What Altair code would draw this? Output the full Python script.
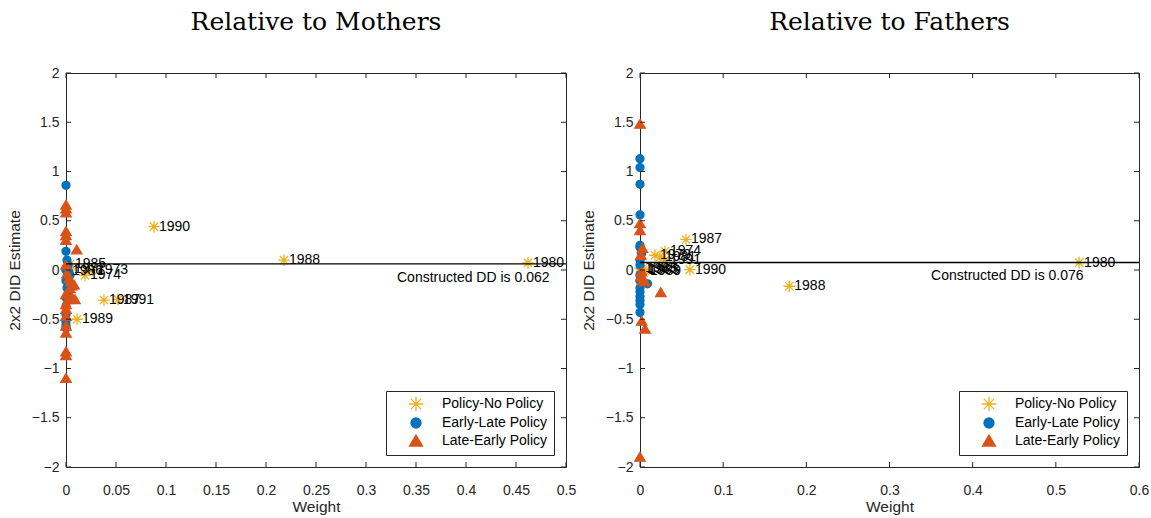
import altair as alt
import pandas as pd

YELLOW = "#EDB120"
BLUE = "#0072BD"
RED = "#D95319"
AX = "#262626"
SERIES = ["Policy-No Policy", "Early-Late Policy", "Late-Early Policy"]
ASTER = "M-1.45,0L1.45,0M0,-1.45L0,1.45M-1.03,-1.03L1.03,1.03M-1.03,1.03L1.03,-1.03"
TRI = "M0,-1.2L1.3,1L-1.3,1Z"

Y_TICKS = [-2, -1.5, -1, -0.5, 0, 0.5, 1, 1.5, 2]

# ---------------- Relative to Mothers ----------------
m_pnp_year = ["1990", "1988", "1980", "1989", "1987", "1991", "1985", "1977", "1986", "1973", "1974"]
m_pnp_x = [0.088, 0.218, 0.462, 0.011, 0.038, 0.052, 0.004, 0.003, 0.001, 0.026, 0.019]
m_pnp_y = [0.44, 0.10, 0.072, -0.50, -0.305, -0.30, 0.06, 0.01, -0.01, 0.00, -0.055]

m_el_x = [0.000, 0.000, 0.001, 0.002, 0.000, 0.003, 0.004, 0.000, 0.001, 0.002, 0.000, 0.000,
          0.000, 0.000, 0.000, 0.000]
m_el_y = [0.86, 0.19, 0.10, 0.05, 0.00, -0.02, -0.05, -0.11, -0.18, -0.24, -0.28, -0.37,
          -0.45, -0.52, -0.56, -0.59]

m_le_x = [0.000, 0.000, 0.000, 0.000, 0.000, 0.000, 0.0107, 0.000, 0.001, 0.003, 0.005, 0.006,
          0.004, 0.008, 0.000, 0.006, 0.002, 0.009, 0.000, 0.000, 0.000, 0.000, 0.000, 0.000,
          0.000, 0.000]
m_le_y = [0.66, 0.62, 0.58, 0.39, 0.35, 0.30, 0.205, 0.05, -0.04, -0.09, -0.12, -0.16,
          -0.19, -0.15, -0.25, -0.28, -0.30, -0.30, -0.35, -0.40, -0.47, -0.57, -0.64, -0.83,
          -0.87, -1.10]
m_dd = 0.062
m_dd_label = "Constructed DD is 0.062"
m_dd_pos = [0.331, -0.08]
m_x_ticks = [0, 0.05, 0.1, 0.15, 0.2, 0.25, 0.3, 0.35, 0.4, 0.45, 0.5]

# ---------------- Relative to Fathers ----------------
f_pnp_year = ["1987", "1974", "1991", "1981", "1979", "1990", "1988", "1980", "1983", "1985", "1989", "1993"]
f_pnp_x = [0.0553, 0.030, 0.030, 0.024, 0.018, 0.060, 0.1795, 0.528, 0.004, 0.002, 0.006, 0.000]
f_pnp_y = [0.31, 0.19, 0.10, 0.13, 0.15, 0.003, -0.165, 0.075, 0.00, 0.01, -0.01, 0.02]

f_el_x = [0.000, 0.000, 0.000, 0.000, 0.000, 0.000, 0.002, 0.000, 0.000, 0.000, 0.000, 0.009,
          0.000, 0.000, 0.000, 0.000, 0.000, 0.000]
f_el_y = [1.13, 1.04, 0.87, 0.56, 0.25, 0.23, 0.17, 0.10, 0.05, -0.05, -0.11, -0.14,
          -0.18, -0.22, -0.27, -0.31, -0.35, -0.43]

f_le_x = [0.000, 0.000, 0.000, 0.003, 0.001, 0.002, 0.001, 0.003, 0.006, 0.025, 0.002, 0.006, 0.000]
f_le_y = [1.48, 0.47, 0.40, 0.22, 0.15, -0.02, -0.07, -0.11, -0.12, -0.23, -0.52, -0.60, -1.90]
f_dd = 0.076
f_dd_label = "Constructed DD is 0.076"
f_dd_pos = [0.35, -0.06]
f_x_ticks = [0, 0.1, 0.2, 0.3, 0.4, 0.5, 0.6]

FONT = "Liberation Sans"
H = 394
XT = "Weight"
YT = "2x2 DID Estimate"


def panel(title, pnp_x, pnp_y, pnp_year, el_x, el_y, le_x, le_y, dd, dd_label, dd_pos,
          x_ticks, W):
    rows = []
    for x, y, yr in zip(pnp_x, pnp_y, pnp_year):
        rows.append({"series": SERIES[0], "x": x, "y": y, "year": yr})
    for x, y in zip(el_x, el_y):
        rows.append({"series": SERIES[1], "x": x, "y": y, "year": ""})
    for x, y in zip(le_x, le_y):
        rows.append({"series": SERIES[2], "x": x, "y": y, "year": ""})
    df = pd.DataFrame(rows)
    df["order"] = range(len(df))

    xs = alt.Scale(domain=[x_ticks[0], x_ticks[-1]], nice=False, zero=False)
    ys = alt.Scale(domain=[-2, 2], nice=False, zero=False)

    xaxis = alt.Axis(values=x_ticks, format="~g", ticks=False, tickSize=0,
                     domain=False, grid=False, labelFlush=False,
                     labelOverlap=False, labelPadding=16, titlePadding=2)
    yaxis = alt.Axis(values=Y_TICKS, format="~g", ticks=False, tickSize=0,
                     domain=False, grid=False, labelOverlap=False,
                     labelPadding=7, titlePadding=9)

    leg = alt.Legend(title=None, orient="bottom-right", offset=12)

    pts = alt.Chart(df).mark_point(strokeWidth=1.3, opacity=1, size=64).encode(
        x=alt.X("x:Q", scale=xs, title=XT, axis=xaxis),
        y=alt.Y("y:Q", scale=ys, title=YT, axis=yaxis),
        shape=alt.Shape("series:N", scale=alt.Scale(domain=SERIES, range=[ASTER, "circle", TRI]), legend=leg),
        fill=alt.Fill("series:N", scale=alt.Scale(domain=SERIES, range=["transparent", BLUE, RED]), legend=leg),
        stroke=alt.Stroke("series:N", scale=alt.Scale(domain=SERIES, range=[YELLOW, BLUE, RED]), legend=leg),
        order=alt.Order("order:Q"),
    )

    ddrule = alt.Chart(pd.DataFrame({"dd": [dd]})).mark_rule(
        color="black", strokeWidth=1.4
    ).encode(y=alt.Y("dd:Q", scale=ys, title=YT))

    labels = alt.Chart(df[df["year"] != ""]).mark_text(
        align="left", baseline="middle", dx=5, fontSize=14, font=FONT, color="black"
    ).encode(
        x=alt.X("x:Q", scale=xs, title=XT),
        y=alt.Y("y:Q", scale=ys, title=YT),
        text="year:N",
    )

    ddtext = alt.Chart(pd.DataFrame({"x": [dd_pos[0]], "y": [dd_pos[1]], "t": [dd_label]})).mark_text(
        align="left", baseline="middle", fontSize=14, font=FONT, color="black"
    ).encode(
        x=alt.X("x:Q", scale=xs, title=XT),
        y=alt.Y("y:Q", scale=ys, title=YT),
        text="t:N",
    )

    ydf = pd.DataFrame({"t": Y_TICKS})
    xdf = pd.DataFrame({"t": x_ticks})
    tk = dict(color=AX, strokeWidth=1)
    yt_l = alt.Chart(ydf).mark_rule(**tk).encode(
        y=alt.Y("t:Q", scale=ys, title=YT), x=alt.value(0), x2=alt.value(5))
    yt_r = alt.Chart(ydf).mark_rule(**tk).encode(
        y=alt.Y("t:Q", scale=ys, title=YT), x=alt.value(W - 5), x2=alt.value(W))
    xt_b = alt.Chart(xdf).mark_rule(**tk).encode(
        x=alt.X("t:Q", scale=xs, title=XT), y=alt.value(H), y2=alt.value(H - 5))
    xt_t = alt.Chart(xdf).mark_rule(**tk).encode(
        x=alt.X("t:Q", scale=xs, title=XT), y=alt.value(0), y2=alt.value(5))

    return alt.layer(pts, yt_l, yt_r, xt_b, xt_t, ddrule, labels, ddtext).properties(
        width=W, height=H,
        title=alt.TitleParams(text=title, font="DejaVu Serif", fontSize=25,
                              fontWeight="normal", color="black", offset=31,
                              anchor="middle"),
    )


left = panel("Relative to Mothers", m_pnp_x, m_pnp_y, m_pnp_year, m_el_x, m_el_y,
             m_le_x, m_le_y, m_dd, m_dd_label, m_dd_pos, m_x_ticks, 500)
right = panel("Relative to Fathers", f_pnp_x, f_pnp_y, f_pnp_year, f_el_x, f_el_y,
              f_le_x, f_le_y, f_dd, f_dd_label, f_dd_pos, f_x_ticks, 499)

chart = alt.hconcat(left, right, spacing=3).resolve_scale(
    x="independent", y="independent", fill="independent", stroke="independent",
    shape="independent"
).resolve_legend(
    fill="independent", stroke="independent", shape="independent"
).properties(
    padding={"left": 6, "top": 9, "right": 0, "bottom": 0},
    background="white",
).configure_view(
    stroke=AX, strokeWidth=1
).configure_axis(
    labelFont=FONT, labelFontSize=14, labelColor=AX,
    titleFont=FONT, titleFontSize=15.5, titleFontWeight="normal", titleColor=AX,
).configure_legend(
    strokeColor=AX, fillColor="white", padding=6, cornerRadius=0,
    labelFont=FONT, labelFontSize=14, labelColor="black",
    symbolOffset=17, labelOffset=19, rowPadding=1, symbolStrokeWidth=1.3,
)

chart.save("out.html", embed_options={"renderer": "svg", "actions": False})
